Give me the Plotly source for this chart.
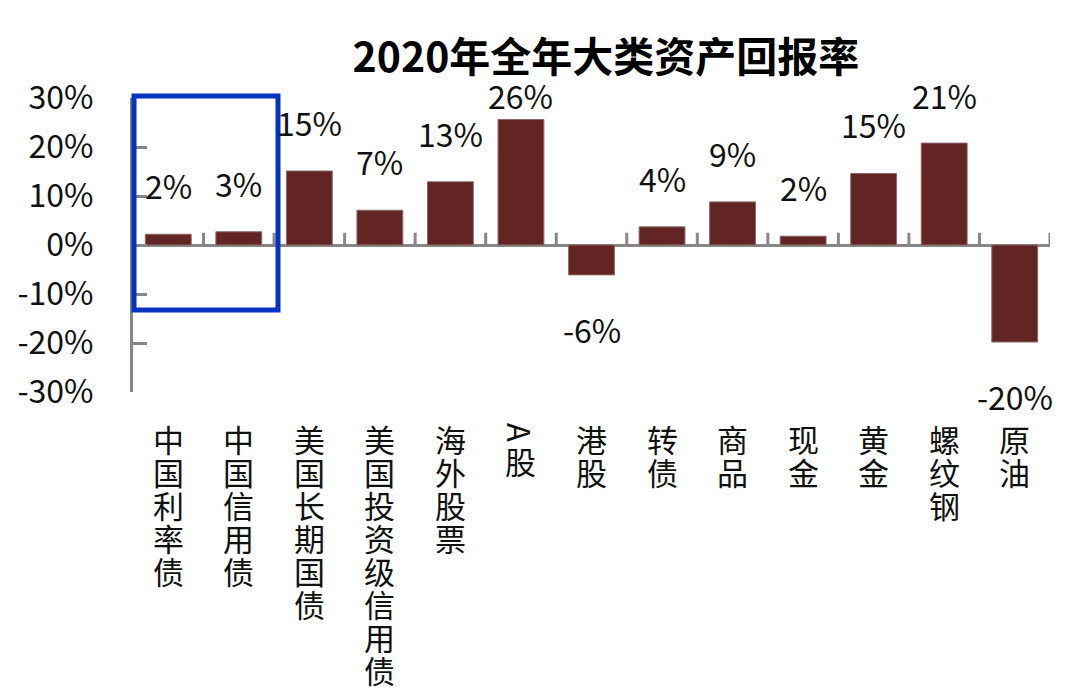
import plotly.graph_objects as go

categories = ["中国利率债", "中国信用债", "美国长期国债", "美国投资级信用债", "海外股票", "A股",
              "港股", "转债", "商品", "现金", "黄金", "螺纹钢", "原油"]
returns = [2.2, 2.7, 15.1, 7.1, 12.9, 25.6, -6.1, 3.7, 8.8, 1.8, 14.6, 20.8, -19.8]
y_ticks = [-30, -20, -10, 0, 10, 20, 30]
y_tick_labels = [f"{v}%" for v in y_ticks]
title_text = "2020年全年大类资产回报率"

FONT = "Noto Sans CJK SC"
BAR_COLOR = "#632523"
AXIS_COLOR = "#878787"
BLUE = "#0433c4"

W, H = 1080, 700
ML, MR, MT, MB = 133, 30, 98, 308
PLOT_W = W - ML - MR
PLOT_H = H - MT - MB
Y_MIN, Y_MAX = -30, 30
PX_PER_UNIT = PLOT_H / (Y_MAX - Y_MIN)

x_idx = list(range(len(categories)))

fig = go.Figure()
fig.add_trace(go.Bar(
    x=x_idx, y=returns, width=0.65,
    marker=dict(color=BAR_COLOR, line=dict(color="#8a6a69", width=1)),
    hoverinfo="skip",
))

annotations = []
# value labels
for i, v in enumerate(returns):
    if v >= 0:
        shift = min(49, (30.6 - v) * PX_PER_UNIT)
    else:
        shift = -54
    annotations.append(dict(x=i, y=v, xref="x", yref="y", text=f"{round(v)}%",
                            showarrow=False, yanchor="middle", xanchor="center",
                            yshift=shift,
                            font=dict(family=FONT, size=32, color="#111")))
# vertical category labels (stacked characters; latin letters turned sideways)
for i, name in enumerate(categories):
    pos = 30
    for ch in name:
        is_latin = ord(ch) < 128
        adv = 22 if is_latin else 33
        center = pos + adv / 2
        annotations.append(dict(x=i, y=0, xref="x", yref="paper", text=ch,
                                showarrow=False, yanchor="middle", xanchor="center",
                                yshift=-center, textangle=90 if is_latin else 0,
                                font=dict(family=FONT, size=31, color="#111")))
        pos += adv

shapes = []
# x-axis upward tick marks at category boundaries
for i in range(len(categories)):
    shapes.append(dict(type="line", xref="x", yref="y", x0=i + 0.5, x1=i + 0.5,
                       y0=0, y1=2.5, line=dict(color=AXIS_COLOR, width=3)))
# highlight box (pixel positions converted to paper coordinates)
bx0, bx1, by0, by1 = 134, 278, 96, 310
shapes.append(dict(type="rect", xref="paper", yref="paper",
                   x0=(bx0 - ML) / PLOT_W, x1=(bx1 - ML) / PLOT_W,
                   y0=(H - MB - by0) / PLOT_H, y1=(H - MB - by1) / PLOT_H,
                   line=dict(color=BLUE, width=5), fillcolor="rgba(0,0,0,0)"))

fig.update_layout(
    width=W, height=H,
    margin=dict(l=ML, r=MR, t=MT, b=MB),
    plot_bgcolor="white", paper_bgcolor="white",
    showlegend=False,
    title=dict(text=f"<b>{title_text}</b>", x=606 / W, xref="container", xanchor="center",
               y=1 - 58 / H, yref="container", yanchor="middle",
               font=dict(family=FONT, size=41, color="#000")),
    xaxis=dict(range=[-0.5, len(categories) - 0.5], showticklabels=False, showgrid=False,
               zeroline=False, showline=False, ticks=""),
    yaxis=dict(range=[Y_MIN, Y_MAX], tickvals=y_ticks, ticktext=y_tick_labels,
               showgrid=False, zeroline=True, zerolinecolor=AXIS_COLOR, zerolinewidth=3,
               showline=True, linecolor=AXIS_COLOR, linewidth=3,
               ticks="inside", ticklen=14, tickwidth=3, tickcolor=AXIS_COLOR,
               ticklabelstandoff=30,
               tickfont=dict(family=FONT, size=32, color="#111")),
    annotations=annotations,
    shapes=shapes,
)

fig.write_html("out.html")
